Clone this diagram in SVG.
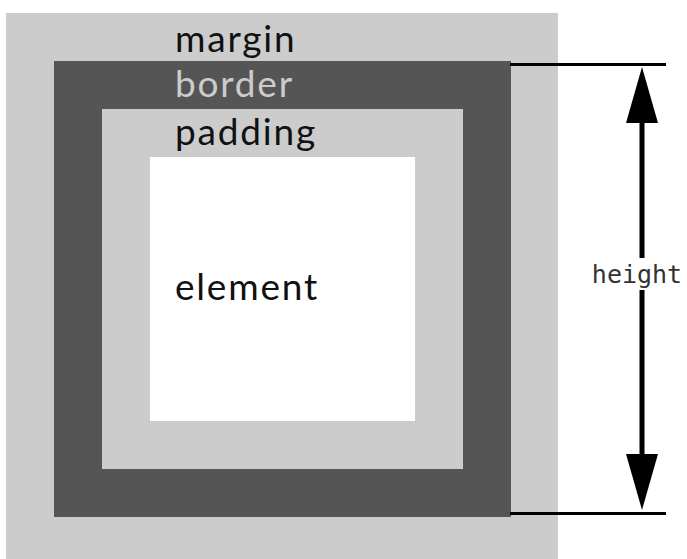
<svg xmlns="http://www.w3.org/2000/svg" width="687" height="559" viewBox="0 0 687 559">
<style>
.lbl{font-family:Lato,"Open Sans",sans-serif;font-size:37px;letter-spacing:1.8px;fill:#111}
.mono{font-family:"DejaVu Sans Mono","Liberation Mono",monospace;font-size:25px;fill:#333}
.dim{stroke:#000;stroke-width:3;fill:none}
</style>
<rect width="687" height="559" fill="#fff"/>
<g id="margin">
<rect x="6" y="13" width="552" height="546" fill="#ccc"/>
<text class="lbl" x="175" y="52">margin</text>
</g>
<g id="border">
<rect x="54" y="61" width="457" height="456" fill="#555"/>
<text class="lbl" x="175" y="97" style="fill:#ccc">border</text>
</g>
<g id="padding">
<rect x="102" y="109" width="361" height="360" fill="#ccc"/>
<text class="lbl" x="175" y="145">padding</text>
</g>
<g id="element">
<rect x="150" y="157" width="265" height="264" fill="#fff"/>
<text class="lbl" x="175" y="300">element</text>
</g>
<g id="connectors">
<line class="dim" x1="510" y1="64.5" x2="666" y2="64.5"/>
<line class="dim" x1="510" y1="513.5" x2="666" y2="513.5"/>
<line x1="642" y1="120" x2="642" y2="456" stroke="#000" stroke-width="5"/>
<path d="M642,67 L658,123 L626,123 Z" fill="#000"/>
<path d="M642,510 L658,454 L626,454 Z" fill="#000"/>
</g>
<g id="height">
<rect x="588" y="258" width="97" height="32" fill="#fff"/>
<text class="mono" x="637" y="283" text-anchor="middle">height</text>
</g>
</svg>
